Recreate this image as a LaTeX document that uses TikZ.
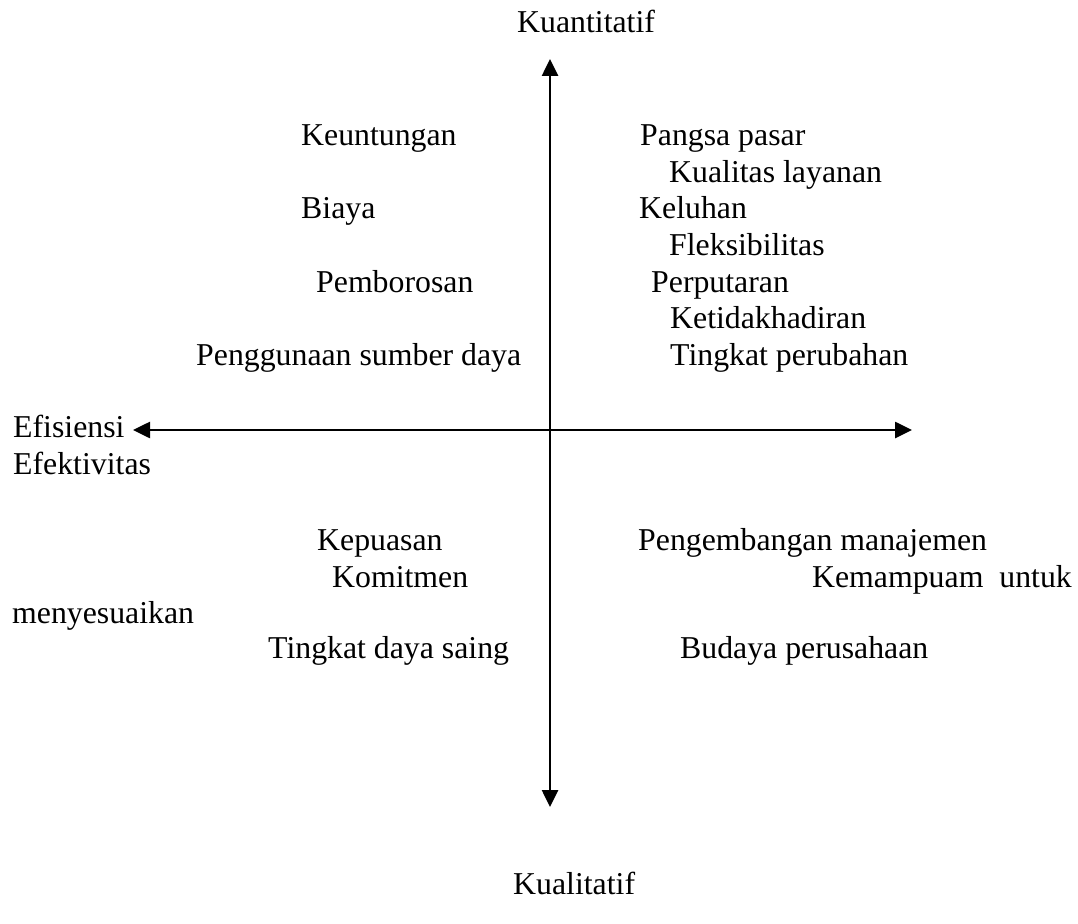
\documentclass[tikz,border=0pt]{standalone}
\usepackage{fontspec}
\setmainfont{Liberation Serif}
\usetikzlibrary{arrows.meta}
\begin{document}
\begin{tikzpicture}[x=1pt,y=-1pt,
  lbl/.style={anchor=base west,inner sep=0pt,font=\fontsize{31.8}{38}\selectfont},
  lblr/.style={anchor=base east,inner sep=0pt,font=\fontsize{31.8}{38}\selectfont},
  axis/.style={line width=2.6pt,{Triangle[length=17pt,width=16pt]}-{Triangle[length=17pt,width=16pt]}}]
\useasboundingbox (0,0) rectangle (1078,923);
% axis end points
\coordinate (top) at (550,59);
\coordinate (bottom) at (550,807);
\coordinate (left) at (133,430);
\coordinate (right) at (912,430);
\draw[axis] (bottom) -- (top);
\draw[axis] (left) -- (right);
% axis labels
\node[lbl] (kuan) at (517,33) {Kuantitatif};
\node[lbl] (kual) at (513,894) {Kualitatif};
\node[lbl] (efis) at (13,437) {Efisiensi};
\node[lbl] (efek) at (13,474) {Efektivitas};
% upper left
\node[lbl] (keun) at (301,145) {Keuntungan};
\node[lbl] (biaya) at (301,218) {Biaya};
\node[lbl] (pemb) at (316,292) {Pemborosan};
\node[lbl] (peng) at (196,365) {Penggunaan sumber daya};
% upper right
\node[lbl] (pang) at (640,145) {Pangsa pasar};
\node[lbl] (kuali) at (669,182) {Kualitas layanan};
\node[lbl] (kel) at (639,218) {Keluhan};
\node[lbl] (flek) at (669,255) {Fleksibilitas};
\node[lbl] (perp) at (651,292) {Perputaran};
\node[lbl] (ketid) at (670,328) {Ketidakhadiran};
\node[lbl] (tingp) at (670,365) {Tingkat perubahan};
% lower left
\node[lbl] (kep) at (317,550) {Kepuasan};
\node[lbl] (kom) at (332,587) {Komitmen};
\node[lbl] (meny) at (12,623) {menyesuaikan};
\node[lbl] (tingd) at (268,658) {Tingkat daya saing};
% lower right
\node[lbl] (pengm) at (638,550) {Pengembangan manajemen};
\node[lblr] (kemp) at (1072,587) {Kemampuam\ \ untuk};
\node[lbl] (bud) at (680,658) {Budaya perusahaan};
\end{tikzpicture}
\end{document}
